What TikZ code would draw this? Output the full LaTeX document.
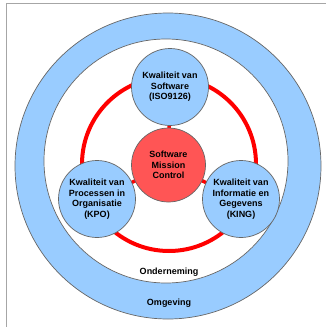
\documentclass[tikz,border=0pt]{standalone}
\usepackage{fontspec}
\setmainfont{Liberation Sans}
\begin{document}
\begin{tikzpicture}[x=1pt,y=-1pt,
  outline/.style={draw=black!60,line width=0.7pt},
  bluefill/.style={fill=lightblue},
  topic/.style={circle,outline,fill=lightblue,minimum size=77pt,inner sep=0pt,
    align=center,font=\fontsize{9}{10.5}\selectfont\bfseries},
  core/.style={circle,outline,fill=corered,minimum size=74pt,inner sep=0pt,
    align=center,font=\fontsize{9}{10.5}\selectfont\bfseries},
  ringlabel/.style={font=\fontsize{9}{10.5}\selectfont\bfseries},
  redline/.style={draw=ringred,line width=4pt},
  spoke/.style={draw=ringred,line width=3.5pt}
]
\definecolor{lightblue}{HTML}{99CCFF}
\definecolor{corered}{HTML}{FF5555}
\definecolor{ringred}{HTML}{FF0000}
\useasboundingbox (0,0) rectangle (326,327);
% frame
\draw[draw=black!35,line width=1pt] (6,327) -- (6,3.5) -- (326,3.5);
% rings
\fill[lightblue] (168,166) circle (153);
\draw[outline] (168,166) circle (153);
\fill[white] (166,161) circle (122);
\draw[outline] (166,161) circle (122);
\draw[redline] (169,164) circle (87);
% nodes
\coordinate (c) at (168.5,165);
\draw[spoke] (c) -- (170,87);
\draw[spoke] (c) -- (97,199);
\draw[spoke] (c) -- (241,199);
\node[core] (smc) at (c) {Software\\Mission\\Control};
\node[topic] (sw) at (170,87) {Kwaliteit van\\Software\\(ISO9126)};
\node[topic] (kpo) at (97,199) {Kwaliteit van\\Processen in\\Organisatie\\(KPO)};
\node[topic] (king) at (241,199) {Kwaliteit van\\Informatie en\\Gegevens\\(KING)};
\node[ringlabel] (ond) at (169,272) {Onderneming};
\node[ringlabel] (omg) at (169,303) {Omgeving};
\end{tikzpicture}
\end{document}
